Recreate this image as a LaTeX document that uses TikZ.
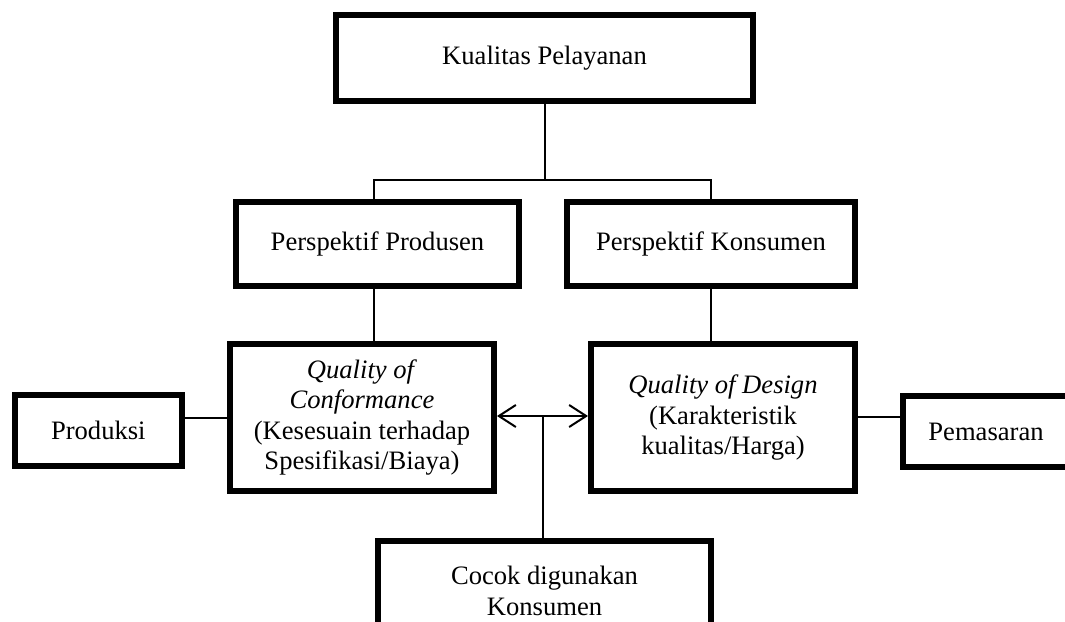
\documentclass[tikz,border=0pt]{standalone}
\usepackage{fontspec}
\setmainfont{Liberation Serif}
\usetikzlibrary{arrows.meta}
\begin{document}
\begin{tikzpicture}[x=1pt,y=-1pt,
  box/.style={draw=black, line width=6pt, rectangle, inner sep=0pt, align=center,
    font=\fontsize{26.6}{30.5}\selectfont},
  conn/.style={draw=black, line width=2pt},
  dbl/.style={conn, {Straight Barb[length=17pt,width=22pt,line width=2pt]}-{Straight Barb[length=17pt,width=22pt,line width=2pt]}}
]
\useasboundingbox (0,0) rectangle (1065,621);
\clip (0,0) rectangle (1065,621);
\fill[white] (0,0) rectangle (1065,621);

\node[box, minimum width=417pt, minimum height=86pt] (kual) at (544.5,58) {Kualitas Pelayanan};
\node[box, minimum width=283pt, minimum height=84pt] (prod) at (377.5,244) {Perspektif Produsen};
\node[box, minimum width=288pt, minimum height=84pt] (kons) at (711,244) {Perspektif Konsumen};
\node[box, minimum width=264pt, minimum height=147pt] (conf) at (362,417.5)
  {\textit{Quality of}\\\textit{Conformance}\\(Kesesuain terhadap\\Spesifikasi/Biaya)};
\node[box, minimum width=264pt, minimum height=147pt] (des) at (723,417.5)
  {\textit{Quality of Design}\\(Karakteristik\\kualitas/Harga)};
\node[box, minimum width=167pt, minimum height=71pt] (produksi) at (98.3,430.5) {Produksi};
\node[box, minimum width=166pt, minimum height=71pt] (pem) at (986,431.5) {Pemasaran};
\node[box, minimum width=333pt, minimum height=100pt] (cocok) at (544.5,591) {Cocok digunakan\\Konsumen};

\coordinate (j) at ([yshift=-76pt]kual.south);
\draw[conn] (kual.south) -- (j);
\draw[conn] ([xshift=-3.5pt]prod.north) |- (j) -| (kons.north);
\draw[conn] ([xshift=-3.5pt]prod.south) -- ([xshift=-3.5pt]prod.south |- conf.north);
\draw[conn] (kons.south) -- (kons.south |- des.north);
\draw[conn] (conf.west) -- (conf.west -| produksi.east);
\draw[conn] ([yshift=1pt]des.east) -- ([yshift=1pt]des.east -| pem.west);
\draw[dbl] ([yshift=1.5pt]conf.east) -- ([yshift=1.5pt]des.west) coordinate[pos=0.5] (m);
\draw[conn] (m) -- (m |- cocok.north);
\end{tikzpicture}
\end{document}
